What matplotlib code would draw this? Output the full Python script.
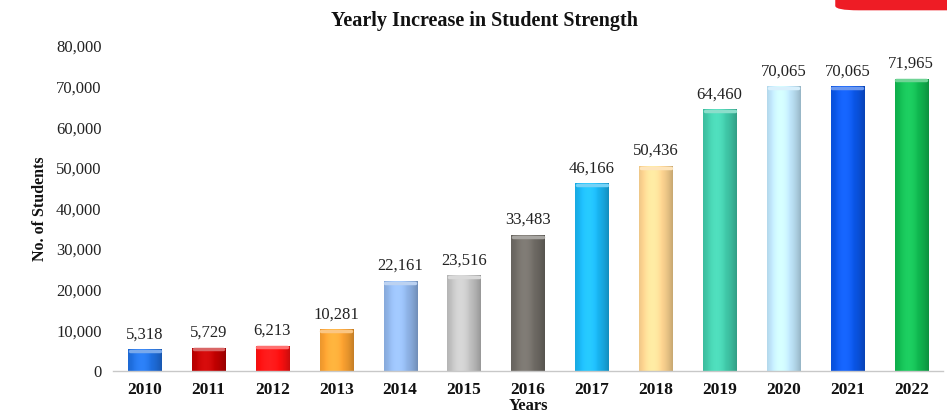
import matplotlib
matplotlib.use("Agg")
import matplotlib.pyplot as plt
import numpy as np
from matplotlib.colors import to_rgb
from matplotlib.patches import FancyBboxPatch

years = ["2010", "2011", "2012", "2013", "2014", "2015", "2016",
         "2017", "2018", "2019", "2020", "2021", "2022"]
students = [5318, 5729, 6213, 10281, 22161, 23516, 33483,
            46166, 50436, 64460, 70065, 70065, 71965]
labels = ["5,318", "5,729", "6,213", "10,281", "22,161", "23,516", "33,483",
          "46,166", "50,436", "64,460", "70,065", "70,065", "71,965"]
colors = ["#1f6fe0", "#c00000", "#ff1010", "#f9a030", "#8fb4e8", "#c0c0c0",
          "#6e6a64", "#19b4f0", "#fdd490", "#40c8a8", "#bfe6fa", "#0a55e6",
          "#10b850"]
yticks = [0, 10000, 20000, 30000, 40000, 50000, 60000, 70000, 80000]

serif = "Liberation Serif"

fig = plt.figure(figsize=(9.47, 4.13), dpi=100)
ax = fig.add_axes([0.119, 0.1017, 0.877, 0.787])

x = np.arange(len(years))
bars = ax.bar(x, students, width=0.52, color=colors, zorder=2)

# cylinder-like shading
for rect, c in zip(bars, colors):
    rgb = np.array(to_rgb(c))
    t = np.linspace(0, 1, 64)
    prof = 1 - 0.9 * (np.abs(t - 0.4) / 0.6) ** 2
    shade = np.clip(0.76 + 0.30 * prof, 0, 1.15)
    img = np.clip(rgb[None, :] * shade[:, None] + np.maximum(shade[:, None] - 1, 0) * 0.8, 0, 1)
    img = img[None, :, :]
    x0, w, h = rect.get_x(), rect.get_width(), rect.get_height()
    rect.set_facecolor("none")
    im = ax.imshow(img, extent=[x0, x0 + w, 0, h], aspect="auto", zorder=2,
                   interpolation="bilinear")
    im.set_clip_path(rect)
    cap = np.clip(rgb * 0.6 + 0.4, 0, 1)
    ax.plot([x0 + w * 0.05, x0 + w * 0.95], [h - 400, h - 400], color=cap,
            lw=2.5, solid_capstyle="round", zorder=3)

for xi, v, lab in zip(x, students, labels):
    ax.annotate(lab, (xi, v), xytext=(0, 5), textcoords="offset points",
                ha="center", va="bottom", fontsize=12, family=serif, color="#222222")

ax.set_xlim(-0.5, len(years) - 0.5)
ax.set_ylim(0, 80000)
ax.set_yticks(yticks)
ax.set_yticklabels([f"{v:,}" for v in yticks], family=serif, fontsize=12, color="#222222")
ax.set_xticks(x)
ax.set_xticklabels(years, family=serif, fontsize=12.5, fontweight="bold", color="#111111")
ax.tick_params(axis="both", length=0)
ax.tick_params(axis="y", pad=8)
ax.tick_params(axis="x", pad=8)
for s in ["top", "right", "left"]:
    ax.spines[s].set_visible(False)
ax.spines["bottom"].set_color("#c8c8c8")
ax.spines["bottom"].set_linewidth(1)

ax.set_ylabel("No. of Students", family=serif, fontsize=11.5, fontweight="bold",
              labelpad=6, color="#111111")
ax.set_xlabel("Years", family=serif, fontsize=12, fontweight="bold",
              labelpad=0, color="#111111")

fig.text(0.512, 0.948, "Yearly Increase in Student Strength", ha="center",
         va="center", family=serif, fontsize=14.5, fontweight="bold", color="#111111")

banner = FancyBboxPatch((0.882, 0.975), 0.2, 0.1,
                        boxstyle="round,pad=0,rounding_size=0.025",
                        transform=fig.transFigure, facecolor="#ee1c25",
                        edgecolor="none", mutation_aspect=413 / 947)
fig.patches.append(banner)

fig.savefig("out.png", dpi=100)
